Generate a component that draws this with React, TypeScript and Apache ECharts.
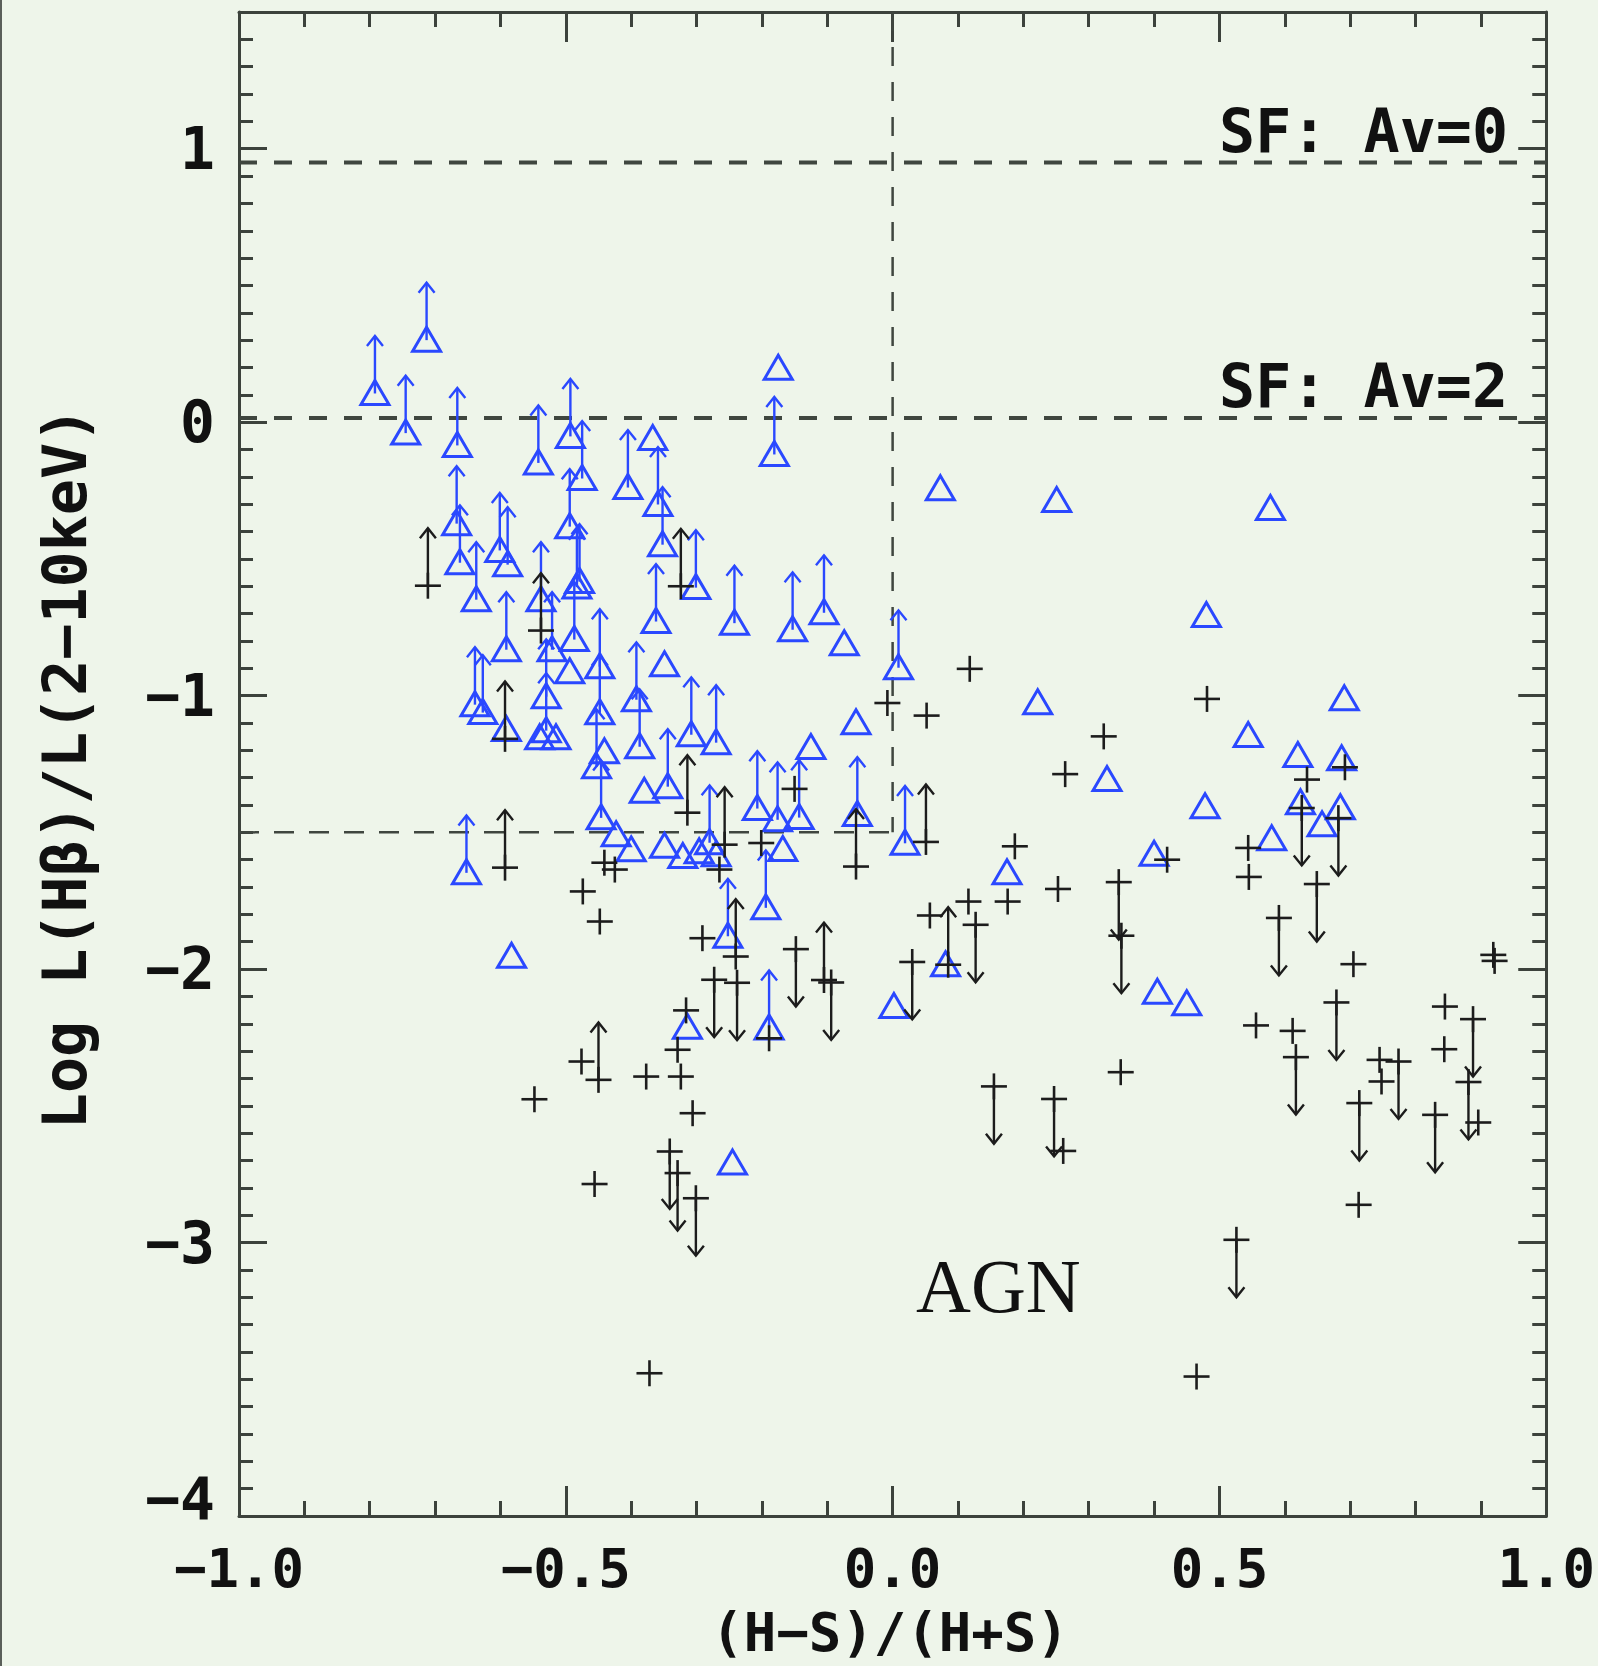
import React, { useEffect, useRef } from 'react';
import * as echarts from 'echarts';

// ---------- data ----------
// blue triangles: x, y, arrow (1 = lower limit, arrow up; 0 = none)
const triX = [-0.792, -0.713, -0.745, -0.666, -0.542, -0.493, -0.475, -0.405, -0.367, -0.359, -0.352, -0.667, -0.662, -0.637, -0.601, -0.589, -0.494, -0.479, -0.483, -0.538, -0.487, -0.301, -0.242, -0.362, -0.639, -0.627, -0.591, -0.530, -0.530, -0.540, -0.515, -0.494, -0.448, -0.448, -0.441, -0.453, -0.446, -0.423, -0.400, -0.392, -0.387, -0.380, -0.349, -0.344, -0.308, -0.270, -0.349, -0.321, -0.296, -0.280, -0.270, -0.652, -0.583, -0.252, -0.314, -0.245, -0.591, -0.521, -0.181, -0.175, 0.073, 0.251, -0.153, -0.105, -0.074, 0.009, 0.222, 0.328, -0.056, -0.125, -0.207, -0.176, -0.143, -0.054, 0.019, -0.168, -0.194, -0.189, 0.175, 0.081, 0.002, 0.400, 0.405, 0.450, 0.578, 0.480, 0.691, 0.544, 0.620, 0.687, 0.624, 0.657, 0.685, 0.478, 0.580];
const triY = [0.105, 0.300, -0.040, -0.085, -0.149, -0.052, -0.206, -0.239, -0.060, -0.301, -0.448, -0.371, -0.514, -0.649, -0.469, -0.521, -0.382, -0.583, -0.603, -0.649, -0.795, -0.605, -0.735, -0.729, -1.033, -1.062, -1.124, -1.004, -1.128, -1.154, -1.154, -0.913, -0.894, -1.063, -1.205, -1.260, -1.447, -1.509, -1.564, -1.015, -1.187, -1.350, -0.887, -1.333, -1.143, -1.172, -1.551, -1.588, -1.571, -1.538, -1.582, -1.648, -1.953, -1.880, -2.213, -2.709, -0.832, -0.832, -0.118, 0.197, -0.243, -0.286, -0.759, -0.697, -0.810, -0.898, -1.026, -1.307, -1.099, -1.190, -1.413, -1.454, -1.446, -1.435, -1.540, -1.563, -1.776, -2.215, -1.648, -1.984, -2.137, -1.580, -2.085, -2.127, -0.316, -0.707, -1.011, -1.146, -1.219, -1.231, -1.392, -1.472, -1.410, -1.406, -1.523];
const triArrow = [1, 1, 1, 1, 1, 1, 1, 1, 0, 1, 1, 1, 1, 1, 1, 1, 1, 1, 1, 1, 1, 1, 1, 1, 1, 1, 0, 1, 1, 0, 0, 0, 1, 1, 0, 1, 1, 0, 0, 1, 1, 0, 0, 1, 1, 1, 0, 0, 0, 1, 0, 1, 0, 1, 0, 0, 1, 1, 1, 0, 0, 0, 1, 1, 0, 1, 0, 0, 0, 0, 1, 1, 1, 1, 1, 0, 1, 1, 0, 0, 0, 0, 0, 0, 0, 0, 0, 0, 0, 0, 0, 0, 0, 0, 0];

// black crosses: x, y, arrow (1 = up, -1 = down / upper limit, 0 = none)
const plusX = [-0.711, -0.538, -0.324, -0.593, -0.314, -0.257, -0.265, -0.441, -0.425, -0.474, -0.448, -0.593, -0.240, -0.291, -0.273, -0.238, -0.316, -0.450, -0.476, -0.548, -0.377, -0.324, -0.329, -0.306, -0.341, -0.329, -0.301, -0.456, -0.372, 0.118, -0.008, 0.052, 0.323, 0.264, -0.150, 0.051, -0.201, -0.148, -0.105, -0.094, -0.189, -0.056, 0.187, 0.176, 0.116, 0.057, 0.085, 0.127, 0.030, 0.253, 0.346, 0.350, 0.155, 0.247, 0.261, 0.349, 0.481, 0.692, 0.634, 0.626, 0.682, 0.544, 0.420, 0.545, 0.649, 0.591, 0.705, 0.919, 0.921, 0.556, 0.612, 0.617, 0.679, 0.745, 0.748, 0.774, 0.714, 0.830, 0.845, 0.844, 0.888, 0.881, 0.896, 0.713, 0.526, 0.465];
const plusY = [-0.598, -0.762, -0.600, -1.158, -1.428, -1.545, -1.636, -1.611, -1.636, -1.716, -1.826, -1.629, -1.954, -1.887, -2.039, -2.050, -2.151, -2.405, -2.338, -2.476, -2.393, -2.393, -2.295, -2.527, -2.667, -2.746, -2.838, -2.786, -3.478, -0.902, -1.027, -1.073, -1.149, -1.287, -1.341, -1.535, -1.539, -1.927, -2.040, -2.049, -2.253, -1.625, -1.551, -1.753, -1.753, -1.804, -1.984, -1.838, -1.974, -1.707, -1.682, -1.878, -2.429, -2.475, -2.665, -2.377, -1.012, -1.262, -1.307, -1.411, -1.448, -1.557, -1.600, -1.663, -1.689, -1.813, -1.982, -1.948, -1.970, -2.206, -2.226, -2.322, -2.122, -2.332, -2.411, -2.338, -2.490, -2.533, -2.137, -2.293, -2.183, -2.413, -2.561, -2.862, -2.990, -3.490];
const plusArrow = [1, 1, 1, 1, 1, 1, 0, 0, 0, 0, 0, 1, 1, 0, -1, -1, 0, 1, 0, 0, 0, 0, 0, 0, -1, -1, -1, 0, 0, 0, 0, 0, 0, 0, 0, 1, 0, -1, 1, -1, 0, 1, 0, 0, 0, 0, 1, -1, -1, 0, -1, -1, -1, -1, 0, 0, 0, 0, 0, -1, -1, 0, 0, 0, -1, -1, 0, 0, 0, 0, 0, -1, -1, 0, 0, -1, -1, -1, 0, 0, -1, -1, 0, 0, -1, 0];

const xTicks = [-1, -0.5, 0, 0.5, 1];
const xTickLabels = ['\u22121.0', '\u22120.5', '0.0', '0.5', '1.0'];
const yTicks = [-4, -3, -2, -1, 0, 1];
const yTickLabels = ['\u22124', '\u22123', '\u22122', '\u22121', '0', '1'];

const sfLevels = [0.95, 0.015];
const sfLabels = ['SF: Av=0', 'SF: Av=2'];
const boxLevel = -1.5; // dashed box corner
const arrowLen = 0.21;

// ---------- style ----------
const BG = '#eef5ea';
const AXIS = '#3c423c';
const BLUE = '#2a48ff';
const BLACK = '#1c1c1c';
const MONO = '"DejaVu Sans Mono", monospace';

function markerRenderer(kind: 'tri' | 'plus') {
  return (params: any, api: any) => {
    const x = api.value(0);
    const y = api.value(1);
    const d = api.value(2);
    const [cx, cy] = api.coord([x, y]);
    const col = kind === 'tri' ? BLUE : BLACK;
    const children: any[] = [];
    if (d !== 0) {
      const [tx, ty] = api.coord([x, y + d * arrowLen]);
      const s = d > 0 ? 1 : -1;
      children.push({
        type: 'line',
        shape: { x1: cx, y1: cy, x2: tx, y2: ty },
        style: { stroke: col, lineWidth: 2.4 },
      });
      children.push({
        type: 'polyline',
        shape: { points: [[tx - 8, ty + s * 10], [tx, ty], [tx + 8, ty + s * 10]] },
        style: { stroke: col, fill: 'none', lineWidth: 2.4 },
      });
    }
    if (kind === 'tri') {
      children.push({
        type: 'polygon',
        shape: { points: [[cx, cy - 13], [cx + 14, cy + 11], [cx - 14, cy + 11]] },
        style: { stroke: col, fill: 'none', lineWidth: 3 },
      });
    } else {
      children.push({
        type: 'line',
        shape: { x1: cx - 13, y1: cy, x2: cx + 13, y2: cy },
        style: { stroke: col, lineWidth: 2.6 },
      });
      children.push({
        type: 'line',
        shape: { x1: cx, y1: cy - 13, x2: cx, y2: cy + 13 },
        style: { stroke: col, lineWidth: 2.6 },
      });
    }
    return { type: 'group', children };
  };
}

function buildOption(): any {
  const triData = triX.map((x, i) => [x, triY[i], triArrow[i]]);
  const plusData = plusX.map((x, i) => [x, plusY[i], plusArrow[i]]);

  const tickLine = { color: AXIS, width: 3 };
  const labelFont = { fontFamily: MONO, fontWeight: 'bold', fontSize: 54, color: '#111', lineHeight: 44 };

  const xMajor = (position: string, showLabel: boolean) => ({
    type: 'value',
    position,
    min: -1,
    max: 1,
    interval: 0.5,
    axisLine: { show: true, onZero: false, lineStyle: { color: AXIS, width: 3 } },
    axisTick: { show: true, inside: true, length: 30, lineStyle: tickLine },
    minorTick: { show: true, splitNumber: 5, length: 15, lineStyle: tickLine },
    splitLine: { show: false },
    axisLabel: {
      show: showLabel,
      margin: 30,
      ...labelFont,
      formatter: (v: number) => {
        const i = xTicks.findIndex((t) => Math.abs(t - v) < 1e-6);
        return i >= 0 ? xTickLabels[i] : '';
      },
    },
  });

  const yMajor = (position: string, showLabel: boolean) => ({
    type: 'value',
    position,
    min: -4,
    max: 1.5,
    interval: 1,
    axisLine: { show: true, onZero: false, lineStyle: { color: AXIS, width: 3 } },
    axisTick: { show: true, inside: true, length: 28, lineStyle: tickLine },
    splitLine: { show: false },
    axisLabel: {
      show: showLabel,
      margin: 24,
      ...labelFont,
      fontSize: 58,
      formatter: (v: number) => {
        const i = yTicks.findIndex((t) => Math.abs(t - v) < 1e-6);
        if (i < 0) return '';
        return i === 0 ? '{low|' + yTickLabels[i] + '}' : yTickLabels[i];
      },
      rich: { low: { ...labelFont, fontSize: 58, padding: [0, 0, 34, 0] } },
    },
  });

  const yMinor = (position: string) => ({
    type: 'value',
    position,
    min: -4,
    max: 1.5,
    interval: 0.1,
    axisLine: { show: false, onZero: false },
    axisTick: { show: true, inside: true, length: 14, lineStyle: tickLine },
    splitLine: { show: false },
    axisLabel: { show: false },
  });

  const dashed = (data: number[][], width: number, pattern: number[]) => ({
    type: 'line',
    data,
    symbol: 'none',
    silent: true,
    z: 1,
    lineStyle: { color: '#3f463f', width, type: pattern },
  });

  return {
    animation: false,
    backgroundColor: BG,
    grid: { left: 239, top: 12, right: 50, bottom: 150, containLabel: false },
    xAxis: [xMajor('bottom', true), xMajor('top', false)],
    yAxis: [yMajor('left', true), yMinor('left'), yMajor('right', false), yMinor('right')],
    series: [
      dashed([[-1, sfLevels[0]], [1, sfLevels[0]]], 4, [18, 17]),
      dashed([[-1, sfLevels[1]], [1, sfLevels[1]]], 4, [18, 17]),
      dashed([[-1, boxLevel], [0, boxLevel]], 2.5, [20, 15]),
      dashed([[0, 1.5], [0, boxLevel]], 2.5, [19, 16]),
      {
        type: 'custom',
        coordinateSystem: 'cartesian2d',
        xAxisIndex: 0,
        yAxisIndex: 0,
        encode: { x: 0, y: 1 },
        data: triData,
        renderItem: markerRenderer('tri'),
        z: 3,
      },
      {
        type: 'custom',
        coordinateSystem: 'cartesian2d',
        xAxisIndex: 0,
        yAxisIndex: 0,
        encode: { x: 0, y: 1 },
        data: plusData,
        renderItem: markerRenderer('plus'),
        z: 4,
      },
    ],
    graphic: [
      { type: 'rect', left: 0, top: 0, shape: { width: 2, height: 1666 }, style: { fill: '#5a5f5a' } },
      {
        type: 'text',
        x: 1508,
        y: 131,
        style: { text: sfLabels[0], font: `bold 60px ${MONO}`, fill: '#111', textAlign: 'right', textVerticalAlign: 'middle' },
      },
      {
        type: 'text',
        x: 1508,
        y: 386,
        style: { text: sfLabels[1], font: `bold 60px ${MONO}`, fill: '#111', textAlign: 'right', textVerticalAlign: 'middle' },
      },
      {
        type: 'text',
        x: 916,
        y: 1286,
        style: { text: 'AGN', font: '76px "Liberation Serif", serif', fill: '#111', textAlign: 'left', textVerticalAlign: 'middle' },
      },
      {
        type: 'text',
        x: 890,
        y: 1632,
        style: { text: '(H\u2212S)/(H+S)', font: `bold 54px ${MONO}`, fill: '#111', textAlign: 'center', textVerticalAlign: 'middle' },
      },
      {
        type: 'text',
        x: 65,
        y: 768,
        rotation: Math.PI / 2,
        style: { text: 'Log L(H\u03b2)/L(2\u221210keV)', font: `bold 60px ${MONO}`, fill: '#111', textAlign: 'center', textVerticalAlign: 'middle' },
      },
    ],
  };
}

export default function App() {
  const ref = useRef<HTMLDivElement>(null);
  useEffect(() => {
    if (!ref.current) return;
    const chart = echarts.init(ref.current, undefined, { renderer: 'svg', width: 1598, height: 1666 });
    chart.setOption(buildOption());
    return () => chart.dispose();
  }, []);
  return (
    <div
      ref={ref}
      style={{ position: 'absolute', left: 0, top: 0, width: 1598, height: 1666, overflow: 'hidden' }}
    />
  );
}
